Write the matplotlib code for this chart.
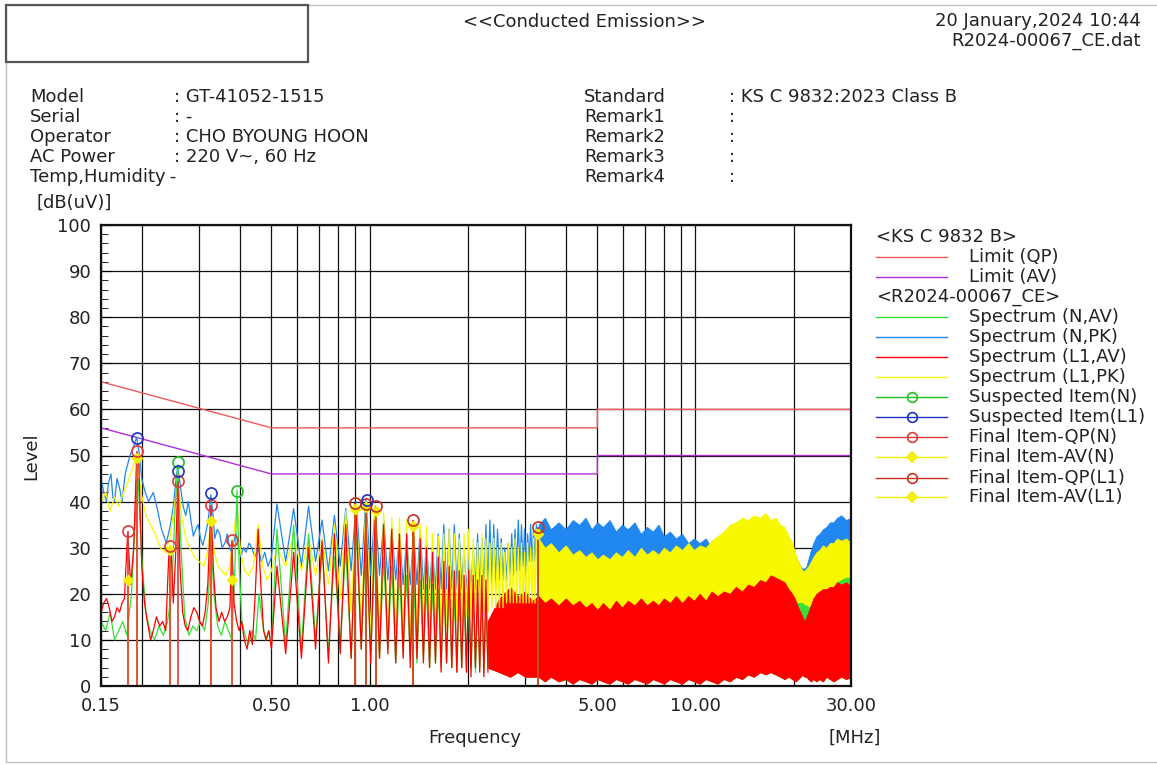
import matplotlib.pyplot as plt
from matplotlib.patches import Rectangle
from matplotlib.ticker import FixedLocator, FixedFormatter, MultipleLocator, NullFormatter

plt.rcParams['font.family'] = ['DejaVu Sans']
TXT = '#222222'
FS = 13

# KS C 9832 class B limit lines
limit_mhz = [0.15, 0.5, 5.0, 5.0, 30.0]
limit_qp = [66, 56, 56, 60, 60]
limit_av = [56, 46, 46, 50, 50]

# low band sweep, neutral peak
npk_mhz = [0.150, 0.153, 0.156, 0.158, 0.161, 0.163, 0.165, 0.168, 0.171, 0.174,
           0.178, 0.184, 0.190, 0.193, 0.196, 0.200, 0.205, 0.210, 0.217, 0.224,
           0.230, 0.238, 0.245, 0.250, 0.255, 0.258, 0.262, 0.268, 0.273, 0.278,
           0.283, 0.288, 0.293, 0.298, 0.303, 0.308, 0.314, 0.320, 0.326, 0.331,
           0.335, 0.341, 0.347, 0.353, 0.360, 0.366, 0.372, 0.378, 0.385, 0.390,
           0.396, 0.403, 0.410, 0.418, 0.427, 0.435, 0.445, 0.455, 0.466, 0.477,
           0.488, 0.500]
npk_db = [45, 42, 40, 44, 46, 41, 40, 45, 43, 40,
          46, 50, 52.5, 54, 51, 45, 42, 40, 42, 38,
          34, 31, 35, 39, 45, 47.5, 44, 39, 37, 40,
          36, 32.5, 34, 35, 32, 30.5, 33, 36, 41.5, 37,
          32, 34, 33, 30, 31, 33, 30, 29, 32, 33,
          30, 28, 30, 29, 31, 30, 28, 30, 27, 29,
          26, 28]

# low band sweep, L1 peak
lpk_mhz = [0.150, 0.155, 0.160, 0.165, 0.170, 0.176, 0.181, 0.187, 0.193, 0.199,
           0.206, 0.213, 0.220, 0.228, 0.236, 0.244, 0.251, 0.258, 0.265, 0.273,
           0.281, 0.290, 0.300, 0.310, 0.318, 0.326, 0.334, 0.343, 0.352, 0.362,
           0.372, 0.382, 0.392, 0.402, 0.414, 0.426, 0.440, 0.455, 0.470, 0.485,
           0.500]
lpk_db = [40, 42, 38, 41, 39, 42, 44, 47, 50, 42,
          37, 35, 33, 30, 29, 32, 38, 45, 37, 32,
          30, 28, 27, 26, 29, 36, 29, 26, 25, 24,
          26, 32, 39, 29, 25, 24, 26, 35, 26, 23,
          25]

# low band sweep, L1 average
lav_mhz = [0.150, 0.153, 0.156, 0.159, 0.162, 0.165, 0.168, 0.171, 0.174, 0.177,
           0.181, 0.185, 0.189, 0.193, 0.196, 0.200, 0.204, 0.208, 0.213, 0.217,
           0.222, 0.227, 0.232, 0.237, 0.242, 0.246, 0.250, 0.254, 0.258, 0.262,
           0.267, 0.272, 0.277, 0.283, 0.289, 0.295, 0.301, 0.307, 0.313, 0.319,
           0.326, 0.332, 0.338, 0.345, 0.352, 0.359, 0.366, 0.373, 0.378, 0.384,
           0.391, 0.398, 0.405, 0.413, 0.421, 0.429, 0.437, 0.446, 0.455, 0.464,
           0.473, 0.482, 0.491, 0.500]
lav_db = [16, 18, 19, 17, 14, 15, 17, 16, 18, 19,
          33, 22, 30, 50, 48, 26, 18, 14, 10, 12,
          15, 13, 14, 12, 28, 30, 18, 28, 44, 26,
          16, 13, 12, 15, 17, 16, 14, 13, 16, 22,
          39, 25, 17, 14, 16, 14, 15, 17, 31, 18,
          14, 12, 14, 10, 8, 12, 9, 20, 34, 22,
          12, 10, 12, 8]

# low band sweep, neutral average
nav_mhz = [0.150, 0.155, 0.160, 0.165, 0.170, 0.175, 0.180, 0.186, 0.191, 0.195,
           0.200, 0.206, 0.212, 0.219, 0.226, 0.233, 0.240, 0.247, 0.253, 0.258,
           0.264, 0.271, 0.279, 0.287, 0.295, 0.303, 0.312, 0.320, 0.326, 0.333,
           0.342, 0.351, 0.360, 0.369, 0.378, 0.386, 0.392, 0.398, 0.406, 0.415,
           0.425, 0.436, 0.447, 0.458, 0.469, 0.480, 0.490, 0.500]
nav_db = [14, 12, 16, 10, 12, 14, 11, 20, 36, 45,
          28, 16, 12, 10, 13, 11, 14, 20, 38, 48,
          30, 15, 11, 13, 12, 14, 12, 18, 32, 20,
          13, 11, 14, 12, 10, 25, 42.5, 26, 14, 11,
          9, 12, 10, 20, 14, 10, 12, 9]

# harmonic comb 0.5 - 3.3 MHz: peak and valley positions
comb_pk_mhz = [0.520, 0.585, 0.650, 0.715, 0.780, 0.845, 0.910, 0.975, 1.040, 1.105,
               1.170, 1.235, 1.300, 1.365, 1.430, 1.495, 1.560, 1.625, 1.690, 1.755,
               1.820, 1.885, 1.950, 2.015, 2.080, 2.145, 2.210, 2.275, 2.340, 2.405,
               2.470, 2.535, 2.600, 2.665, 2.730, 2.795, 2.860, 2.925, 2.990, 3.055,
               3.120, 3.185, 3.250]
comb_vl_mhz = [0.553, 0.618, 0.683, 0.748, 0.813, 0.878, 0.943, 1.008, 1.073, 1.138,
               1.203, 1.268, 1.333, 1.398, 1.463, 1.528, 1.593, 1.658, 1.723, 1.788,
               1.853, 1.918, 1.983, 2.048, 2.113, 2.178, 2.243, 2.308, 2.373, 2.438,
               2.503, 2.568, 2.633, 2.698, 2.763, 2.828, 2.893, 2.958, 3.023, 3.088,
               3.153, 3.218, 3.283]
npk_comb_pk = [39.5, 38.5, 39, 36, 37, 38.5, 40, 40.5, 39, 36,
               34, 33, 32, 33, 34, 31, 30, 33, 35, 34,
               35, 33, 30, 28, 30, 33, 32, 35, 36, 35,
               34, 32, 30, 31, 33, 34, 36, 35, 34, 33,
               35, 34, 35]
npk_comb_vl = [27, 26, 27, 25, 26, 25, 24, 24, 24, 23,
               23, 22, 22, 22, 21, 21, 21, 21, 21, 21,
               21, 21, 21, 21, 21, 21, 21, 22, 22, 22,
               23, 23, 23, 24, 24, 25, 25, 26, 26, 27,
               27, 27, 28]
lpk_comb_pk = [30, 33, 32, 32, 35, 38, 39.5, 40, 39, 37.5,
               36.5, 36.5, 36, 36, 35, 34.5, 33, 32.5, 33, 34,
               33, 32, 33, 34, 32, 31, 33, 32, 31, 32,
               30, 31, 29, 31, 30, 32, 30, 31, 29, 31,
               30, 32, 34]
lpk_comb_vl = [26, 25, 24, 22, 19, 16, 13, 11, 10, 9,
               9, 9, 10, 10, 11, 11, 12, 12, 13, 13,
               14, 14, 15, 15, 15, 16, 16, 16, 17, 17,
               17, 17, 18, 18, 18, 18, 18, 18, 18, 18,
               18, 18, 18]
lav_comb_pk = [26, 29, 30, 31.5, 33, 35, 37, 37, 36, 35,
               34, 33, 33, 34, 32, 30, 29, 28, 27, 26,
               25, 25, 24, 25, 24, 23, 24, 23]
lav_comb_vl = [7, 6, 8, 5, 7, 6, 8, 5, 6, 7,
               5, 6, 4, 6, 5, 4, 5, 3, 5, 4,
               3, 4, 3, 2, 4, 3, 2, 3]
nav_comb_pk = [34, 35, 33, 30, 28, 30, 34, 33, 30, 28,
               26, 25, 24, 24, 23, 22, 22, 21, 22, 21,
               20, 20, 19, 20, 19, 18, 19, 18]
nav_comb_vl = [9, 8, 10, 7, 9, 6, 8, 7, 6, 8,
               5, 7, 6, 5, 6, 4, 5, 4, 5, 4,
               3, 4, 3, 4, 3, 4, 3, 4]

# broadband noise envelopes above the comb (peak detectors)
band_mhz = [3.3, 3.45, 3.6, 3.8, 4.0, 4.2, 4.4, 4.6, 4.8, 5.0,
            5.2, 5.45, 5.7, 5.95, 6.2, 6.5, 6.8, 7.1, 7.4, 7.7,
            8.0, 8.35, 8.7, 9.1, 9.5, 9.9, 10.3, 10.75, 11.2, 11.7,
            12.2, 12.75, 13.3, 13.9, 14.5, 15.1, 15.8, 16.4, 17.0, 17.6,
            18.2, 18.75, 19.3, 19.8, 20.3, 20.65, 21.0, 21.3, 21.6, 21.9,
            22.2, 22.6, 23.0, 23.5, 24.0, 24.6, 25.2, 25.85, 26.5, 27.2,
            28.0, 29.0, 30.0]
npk_band_hi = [35, 36.5, 34, 35.5, 34, 36, 35, 36.5, 34, 35.5,
               34.5, 36, 33.5, 35, 34, 35.5, 33, 34.5, 33.5, 35,
               32.5, 33.5, 32, 33, 31, 32, 31, 32, 30, 31,
               29.5, 30.5, 30, 31, 30.5, 31.5, 30.5, 31.5, 31, 32,
               30.5, 31.5, 30, 29.5, 28, 27, 26, 25.5, 25.5, 26,
               27.5, 29.5, 31, 32.5, 33, 34, 34.5, 35.5, 35.5, 36.5,
               37, 36, 36.5]
npk_band_lo = [28, 28, 28, 27, 27, 27, 27, 27, 27, 27,
               27, 26, 26, 26, 26, 26, 26, 26, 26, 26,
               26, 25, 25, 25, 25, 25, 25, 25, 25, 25,
               25, 25, 25, 25, 26, 26, 26, 26, 26, 26,
               26, 26, 25, 24, 23, 22, 22, 21, 21, 21,
               22, 23, 24, 25, 26, 27, 27, 28, 28, 29,
               29, 29, 29]
lpk_band_hi = [32, 30, 31, 29, 30.5, 28.5, 29.5, 28, 29, 27.5,
               28.5, 27.5, 29, 28, 29.5, 28, 30, 28.5, 29.5, 28.5,
               30, 29, 30.5, 29.5, 31, 29.5, 30.5, 30, 31.5, 32.5,
               33.5, 35, 35.5, 36.5, 36, 37, 36.5, 37.5, 36, 36.5,
               35, 34.5, 32.5, 31, 28.5, 27, 26, 25, 25, 25.5,
               26, 27, 28, 29, 29.5, 30.5, 30, 31, 31, 32,
               31.5, 32, 31]
lpk_band_lo = [16, 16, 16, 16, 16, 15, 15, 15, 15, 15,
               15, 15, 15, 15, 15, 15, 15, 15, 15, 15,
               15, 15, 15, 15, 15, 15, 15, 15, 16, 16,
               16, 16, 17, 17, 17, 17, 18, 18, 18, 18,
               18, 18, 17, 17, 16, 15, 14, 13, 12, 12,
               13, 14, 15, 15, 16, 16, 17, 17, 18, 18,
               18, 18, 18]

# average detector noise floor, starting a little lower in frequency
floor_mhz = [2.3, 2.5, 2.7, 2.85, 3.0, 3.15,
             3.3, 3.45, 3.6, 3.8, 4.0, 4.2, 4.4, 4.6, 4.8, 5.0,
             5.2, 5.45, 5.7, 5.95, 6.2, 6.5, 6.8, 7.1, 7.4, 7.7,
             8.0, 8.35, 8.7, 9.1, 9.5, 9.9, 10.3, 10.75, 11.2, 11.7,
             12.2, 12.75, 13.3, 13.9, 14.5, 15.1, 15.8, 16.4, 17.0, 17.6,
             18.2, 18.75, 19.3, 19.8, 20.3, 20.65, 21.0, 21.3, 21.6, 21.9,
             22.2, 22.6, 23.0, 23.5, 24.0, 24.6, 25.2, 25.85, 26.5, 27.2,
             28.0, 29.0, 30.0]
lav_band_hi = [14, 19, 21.5, 19.5, 20.5, 18.5,
               19.5, 18, 19, 17.5, 19, 17.5, 18.5, 17, 18, 16.5,
               18, 16.5, 18.5, 17, 18.5, 17.5, 19, 17.5, 18.5, 17.5,
               19, 18, 19.5, 18, 19.5, 18.5, 20, 18.5, 20.5, 19.5,
               20.5, 20, 21.5, 20.5, 22, 21.5, 23, 22.5, 24, 23.5,
               23, 22.5, 21, 20, 18.5, 17, 16, 15, 14, 15,
               16, 17.5, 19, 20, 20.5, 21, 21, 21.5, 21.5, 22.5,
               22, 22.5, 21.5]
lav_band_lo = [4, 3, 2, 3, 2, 2,
               2, 1, 2, 1, 1.5, 0.5, 1.5, 1, 0.5, 1.5,
               1, 0.5, 1.5, 1, 0.5, 1.5, 1, 0.5, 1.5, 1,
               0.5, 1.5, 1, 0.5, 1.5, 1, 0.5, 1.5, 1, 0.5,
               1.5, 1, 2, 1.5, 2.5, 2, 3, 2.5, 3, 2.5,
               2, 1.5, 2, 1.5, 1, 1.5, 2, 2.5, 2, 2,
               1.5, 1, 1.5, 1, 1.5, 1, 2, 1.5, 1, 1.5,
               2, 1.5, 2]
nav_band_hi = [12, 17, 18, 17.5, 17, 16.5,
               16, 16, 16, 16, 16, 16, 16, 16, 16, 16,
               16, 16, 16, 16, 16, 16, 16, 16, 16, 16,
               16, 16, 16, 16, 16, 16, 16, 16, 16, 16,
               16, 16, 16, 16, 17, 17, 17, 17, 18, 18,
               19, 19, 18, 18, 17.5, 18, 18, 18, 17.5, 17.5,
               17, 17.5, 18, 19, 19.5, 20, 20.5, 21, 21.5, 22.5,
               23, 23.5, 23.5]

# suspected / final measurement items
susp_n_mhz = [0.258, 0.392]
susp_n_db = [48.5, 42.3]
susp_l1_mhz = [0.193, 0.258, 0.326, 0.982]
susp_l1_db = [53.8, 46.6, 41.8, 40.4]
qp_n_mhz = [0.181, 0.194, 0.244, 0.258, 0.326, 0.378]
qp_n_db = [33.7, 51.0, 30.3, 44.4, 39.3, 31.6]
av_n_mhz = [0.181, 0.194, 0.244, 0.326, 0.378]
av_n_db = [23.0, 49.5, 29.5, 35.8, 23.0]
qp_l1_mhz = [0.904, 0.975, 1.05, 1.36, 3.29]
qp_l1_db = [39.8, 39.5, 39.0, 36.0, 34.5]
av_l1_mhz = [0.904, 0.975, 1.05, 1.36, 3.29]
av_l1_db = [38.5, 38.8, 38.0, 34.8, 33.0]

C_LQP = '#f05a5a'
C_LAV = '#b030d8'
C_NAV = '#36e036'
C_NPK = '#2088f0'
C_LAV1 = '#ff0000'
C_LPK = '#f8f800'
C_SN = '#20c020'
C_SL = '#2030c0'
C_QN = '#e03838'
C_AVI = '#f0f000'
C_QL = '#c83020'


def sweep(low_f, low_v, comb_pk, comb_vl):
    f, v = list(low_f), list(low_v)
    for pf, vf, pv, vv in zip(comb_pk_mhz, comb_vl_mhz, comb_pk, comb_vl):
        f += [pf, vf]
        v += [pv, vv]
    return f, v


fig = plt.figure(figsize=(11.57, 7.65), dpi=100)

# page furniture in pixel coordinates
page = fig.add_axes([0, 0, 1, 1])
page.set_xlim(0, 1157)
page.set_ylim(765, 0)
page.axis('off')
page.add_patch(Rectangle((6, 5), 1160, 757, fill=False, ec='#c0c0c0', lw=1))
page.add_patch(Rectangle((6, 5), 302, 57, fill=False, ec='#555555', lw=1.6))

page.text(584, 22, '<<Conducted Emission>>', ha='center', va='center', fontsize=FS, color=TXT)
page.text(1141, 21, '20 January,2024 10:44', ha='right', va='center', fontsize=FS, color=TXT)
page.text(1141, 41, 'R2024-00067_CE.dat', ha='right', va='center', fontsize=FS, color=TXT)

left_keys = ['Model', 'Serial', 'Operator', 'AC Power', 'Temp,Humidity']
left_vals = [': GT-41052-1515', ': -', ': CHO BYOUNG HOON', ': 220 V~, 60 Hz', ' -']
right_keys = ['Standard', 'Remark1', 'Remark2', 'Remark3', 'Remark4']
right_vals = [': KS C 9832:2023 Class B', ':', ':', ':', ':']
for i in range(5):
    y = 97 + 20 * i
    page.text(30, y, left_keys[i], va='center', fontsize=FS, color=TXT)
    page.text(174 if i < 4 else 164, y, left_vals[i], va='center', fontsize=FS, color=TXT)
    page.text(584, y, right_keys[i], va='center', fontsize=FS, color=TXT)
    page.text(729, y, right_vals[i], va='center', fontsize=FS, color=TXT)

page.text(37, 203, '[dB(uV)]', va='center', fontsize=FS, color=TXT)
page.text(31, 456, 'Level', rotation=90, ha='center', va='center', fontsize=FS, color=TXT)
page.text(475, 738, 'Frequency', ha='center', va='center', fontsize=FS, color=TXT)
page.text(881, 738, '[MHz]', ha='right', va='center', fontsize=FS, color=TXT)

# legend block
page.text(876, 237, '<KS C 9832 B>', va='center', fontsize=FS, color=TXT)
page.text(876, 297, '<R2024-00067_CE>', va='center', fontsize=FS, color=TXT)
legend_rows = [
    (257, 'Limit (QP)', C_LQP, None, None),
    (277, 'Limit (AV)', C_LAV, None, None),
    (317, 'Spectrum (N,AV)', C_NAV, None, None),
    (337, 'Spectrum (N,PK)', C_NPK, None, None),
    (357, 'Spectrum (L1,AV)', C_LAV1, None, None),
    (377, 'Spectrum (L1,PK)', C_LPK, None, None),
    (397, 'Suspected Item(N)', C_SN, 'o', 'none'),
    (417, 'Suspected Item(L1)', C_SL, 'o', 'none'),
    (437, 'Final Item-QP(N)', C_QN, 'o', 'none'),
    (457, 'Final Item-AV(N)', C_AVI, 'D', C_AVI),
    (478, 'Final Item-QP(L1)', C_QL, 'o', 'none'),
    (497, 'Final Item-AV(L1)', C_AVI, 'D', C_AVI),
]
for y, label, col, mk, mfc in legend_rows:
    page.plot([876, 947], [y, y], color=col, lw=1)
    if mk:
        page.plot([912], [y], marker=mk, ms=7 if mk == 'o' else 5, mfc=mfc, mec=col, mew=1.2)
    page.text(969, y, label, va='center', fontsize=FS, color=TXT)

# main plot
ax = fig.add_axes([101 / 1157, 79 / 765, 750 / 1157, 461 / 765])
ax.set_xscale('log')
ax.set_xlim(0.15, 30)
ax.set_ylim(0, 100)
ax.set_axisbelow(True)

ax.xaxis.set_major_locator(FixedLocator([0.15, 0.5, 1, 5, 10, 30]))
ax.xaxis.set_major_formatter(FixedFormatter(['0.15', '0.50', '1.00', '5.00', '10.00', '30.00']))
ax.xaxis.set_minor_locator(FixedLocator([0.2, 0.3, 0.4, 0.6, 0.7, 0.8, 0.9,
                                         2, 3, 4, 6, 7, 8, 9, 20]))
ax.xaxis.set_minor_formatter(NullFormatter())
ax.yaxis.set_major_locator(MultipleLocator(10))
ax.yaxis.set_minor_locator(MultipleLocator(2))
ax.grid(True, which='major', color='#111111', lw=0.9)
ax.grid(True, which='minor', axis='x', color='#111111', lw=0.9)
ax.tick_params(axis='both', which='both', direction='in', labelsize=FS, labelcolor=TXT,
               top=False, right=False)
ax.tick_params(axis='y', which='major', length=8, pad=7)
ax.tick_params(axis='y', which='minor', length=5)
ax.tick_params(axis='x', which='both', length=4, pad=8)
for s in ax.spines.values():
    s.set_color('#111111')
    s.set_linewidth(1.6)

ax.plot(limit_mhz, limit_qp, color=C_LQP, lw=1)
ax.plot(limit_mhz, limit_av, color=C_LAV, lw=1)

f, v = sweep(npk_mhz, npk_db, npk_comb_pk, npk_comb_vl)
ax.plot(f, v, color=C_NPK, lw=0.9)
ax.fill_between(band_mhz, npk_band_lo, npk_band_hi, color=C_NPK, lw=0.6)

f, v = sweep(lpk_mhz, lpk_db, lpk_comb_pk, lpk_comb_vl)
ax.plot(f, v, color=C_LPK, lw=0.9)
ax.fill_between(band_mhz, lpk_band_lo, lpk_band_hi, color=C_LPK, lw=0.6)

f, v = sweep(nav_mhz, nav_db, nav_comb_pk, nav_comb_vl)
ax.plot(f, v, color=C_NAV, lw=0.9)
ax.fill_between(floor_mhz, lav_band_lo, nav_band_hi, color=C_NAV, lw=0.6)

f, v = sweep(lav_mhz, lav_db, lav_comb_pk, lav_comb_vl)
ax.plot(f, v, color=C_LAV1, lw=0.9)
ax.fill_between(floor_mhz, lav_band_lo, lav_band_hi, color=C_LAV1, lw=0.6)

# final items carry a stem down to the floor
ax.vlines(av_n_mhz, 0, av_n_db, color=C_AVI, lw=1.2)
ax.vlines(av_l1_mhz, 0, av_l1_db, color=C_AVI, lw=1.2)
ax.vlines(qp_n_mhz, 0, qp_n_db, color=C_QN, lw=1.2)
ax.vlines(qp_l1_mhz, 0, qp_l1_db, color=C_QL, lw=1.2)

ax.plot(av_n_mhz, av_n_db, 'D', ms=5, color=C_AVI)
ax.plot(av_l1_mhz, av_l1_db, 'D', ms=5, color=C_AVI)
ax.plot(qp_n_mhz, qp_n_db, 'o', ms=8, mfc='none', mec=C_QN, mew=1.2)
ax.plot(qp_l1_mhz, qp_l1_db, 'o', ms=8, mfc='none', mec=C_QL, mew=1.2)
ax.plot(susp_n_mhz, susp_n_db, 'o', ms=8, mfc='none', mec=C_SN, mew=1.2)
ax.plot(susp_l1_mhz, susp_l1_db, 'o', ms=8, mfc='none', mec=C_SL, mew=1.2)

fig.savefig('out.png', dpi=100)
